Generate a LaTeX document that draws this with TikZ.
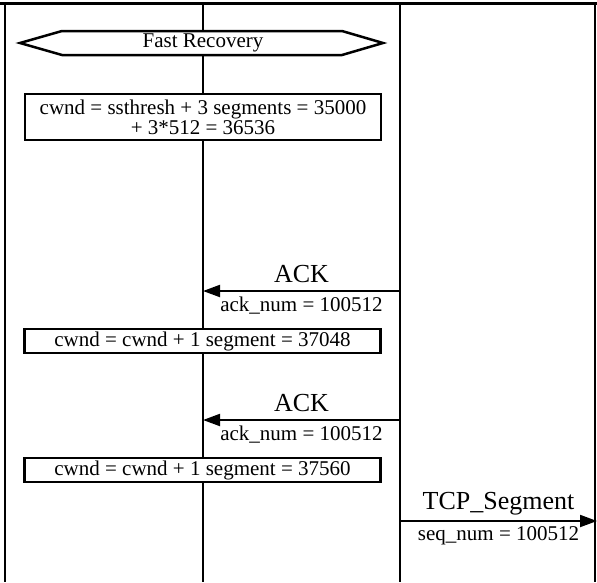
\documentclass[tikz,border=0pt]{standalone}
\usepackage{fontspec}
\setmainfont{Liberation Serif}
\usetikzlibrary{arrows.meta, positioning}

\tikzset{
  lifeline/.style={line width=1.3pt},
  msg/.style={line width=2pt, -{Triangle[length=17pt, width=12pt]}},
  actbox/.style={draw, fill=white, line width=2.5pt, minimum width=356pt, inner sep=1pt, align=center, font=\fontsize{21}{20}\selectfont},
  msglabel/.style={font=\fontsize{26}{28}\selectfont, inner sep=1pt},
  msgparam/.style={font=\fontsize{21}{22}\selectfont, inner sep=1pt},
}

\begin{document}
\begin{tikzpicture}[x=1pt, y=-1pt]
\useasboundingbox (0,0) rectangle (597,582);

% Frame
\draw[line width=3pt] (0,3) -- (597,3);
\draw[line width=1.5pt] (5,3) -- (5,582);
\draw[line width=1.5pt] (595,3) -- (595,582);

% Lifelines
\coordinate (cliTop) at (203,3);
\coordinate (cliBot) at (203,582);
\coordinate (srvTop) at (400,3);
\coordinate (srvBot) at (400,582);
\draw[lifeline] (cliTop) -- (cliBot);
\draw[lifeline] (srvTop) -- (srvBot);

% --- Fast Recovery banner
\filldraw[fill=white, line width=2.5pt] (20,43) -- (62,31) -- (342,31) -- (383,43) -- (342,55) -- (62,55) -- cycle;
\node[msgparam] (fastRec) at (203,43) {Fast Recovery};

% --- Window updates
\node[actbox, minimum height=46pt] (cwndInit) at (203,117) {cwnd = ssthresh + 3 segments = 35000\\+ 3*512 = 36536};
\node[actbox, minimum height=24pt] (cwndAck1) at (202.5,341) {cwnd = cwnd + 1 segment = 37048};
\node[actbox, minimum height=24pt] (cwndAck2) at (202.5,470) {cwnd = cwnd + 1 segment = 37560};

% --- Messages
\coordinate (ack1Srv) at (400,291);
\coordinate (ack1Cli) at (203,291);
\draw[msg] (ack1Srv) -- node[msglabel, above=6pt] (ack1) {ACK}
  node[msgparam, below=4pt] (ack1Num) {ack\_num = 100512} (ack1Cli);

\coordinate (ack2Srv) at (400,420);
\coordinate (ack2Cli) at (203,420);
\draw[msg] (ack2Srv) -- node[msglabel, above=6pt] (ack2) {ACK}
  node[msgparam, below=4pt] (ack2Num) {ack\_num = 100512} (ack2Cli);

\coordinate (segSrv) at (400,521);
\coordinate (segOut) at (597,521);
\draw[msg] (segSrv) -- node[msglabel, above=4pt] (seg) {TCP\_Segment}
  node[msgparam, below=4pt] (segNum) {seq\_num = 100512} (segOut);

\end{tikzpicture}
\end{document}
